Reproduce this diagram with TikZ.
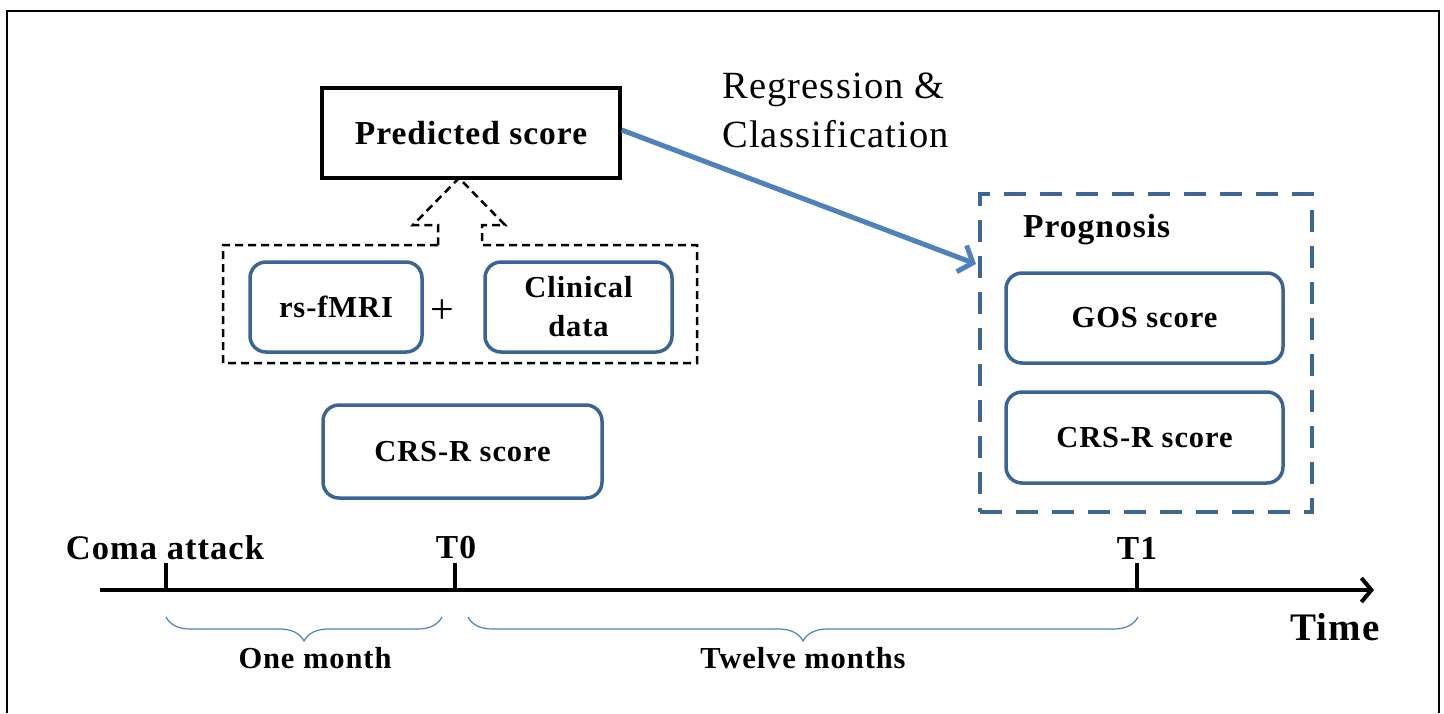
\documentclass[tikz,border=0pt]{standalone}
\usepackage{fontspec}
\setmainfont{Liberation Serif}[LetterSpace=3]
\usetikzlibrary{arrows.meta,decorations.pathreplacing}
\definecolor{boxblue}{HTML}{3B6496}
\definecolor{arrblue}{HTML}{4F81BD}
\definecolor{progblue}{HTML}{3E6695}
\tikzset{
  rbox/.style={draw=boxblue, line width=3.5pt, rounded corners=16pt, fill=white,
    inner sep=0pt, align=center, font=\fontsize{30.5}{39}\selectfont\bfseries},
  predbox/.style={draw=black, line width=3.5pt, fill=white, inner sep=0pt,
    font=\fontsize{33.5}{40}\selectfont\bfseries},
  blkdash/.style={draw=black, line width=2.5pt, dash pattern=on 8pt off 5pt},
  progdash/.style={draw=progblue, line width=4pt, dash pattern=on 22pt off 14pt},
  lbl/.style={inner sep=0pt, font=\fontsize{33.5}{40}\selectfont\bfseries},
  brc/.style={draw=arrblue, line width=1.2pt, decorate,
    decoration={brace, mirror, amplitude=24pt}},
  tick/.style={line width=4pt},
}
\begin{document}
\begin{tikzpicture}[x=1pt,y=-1pt]
\useasboundingbox (0,0) rectangle (1444,713);
\fill[white] (0,0) rectangle (1444,713);
% outer frame
\draw[line width=2pt] (7,713) -- (7,11) -- (1439,11) -- (1439,713);

% predicted score
\node[predbox, minimum width=298pt, minimum height=90pt] (pred) at (471,133) {Predicted score};

% regression text
\node[inner sep=0pt, align=left, anchor=west, font=\fontsize{38.5}{49}\selectfont] (reg) at (722,110)
  {Regression \&\\Classification};

% dashed group with block arrow
\draw[blkdash, line join=miter] (438,245) -- (223,245) -- (223,363) -- (697,363) -- (697,245)
  -- (482,245) -- (482,225) -- (505,225) -- (459,178) -- (413,225) -- (438,225) -- cycle;

\node[rbox, minimum width=172pt, minimum height=90pt] (fmri) at (336,307) {rs-fMRI};
\node[inner sep=0pt, font=\fontsize{42}{44}\selectfont] (plus) at (442,312) {+};
\node[rbox, minimum width=187pt, minimum height=90pt] (clin) at (578.5,307) {Clinical\\data};
\node[rbox, minimum width=279pt, minimum height=93pt] (crs0) at (462.5,451.5) {CRS-R score};

% prognosis box
\node[progdash, minimum width=332pt, minimum height=318pt, inner sep=0pt] (prog) at (1146,353) {};
\node[lbl, anchor=west] (progl) at (1023,230) {Prognosis};
\node[rbox, minimum width=277pt, minimum height=90pt] (gos) at (1144.5,318) {GOS score};
\node[rbox, minimum width=277pt, minimum height=91pt] (crs1) at (1144.5,437.5) {CRS-R score};

% blue arrow
\draw[draw=arrblue, line width=5pt, -{Straight Barb[length=12pt,width=28pt]}]
  ([yshift=3pt]pred.east) -- ([xshift=-2pt,yshift=-72pt]prog.north west);

% timeline
\coordinate (ts) at (100,590);
\coordinate (te) at (1374,590);
\draw[line width=4pt, -{Straight Barb[length=10pt,width=24pt]}] (ts) -- (te);
\coordinate (c0) at (166,590); \coordinate (c0t) at (166,563);
\coordinate (t0) at (455,590); \coordinate (t0t) at (455,563);
\coordinate (t1) at (1137,590); \coordinate (t1t) at (1137,563);
\draw[tick] (c0) -- (c0t);
\draw[tick] (t0) -- (t0t);
\draw[tick] (t1) -- (t1t);
\node[lbl, font=\fontsize{34.5}{40}\selectfont\bfseries] (coma) at (165,548) {Coma attack};
\node[lbl] (t0l) at (456,548) {T0};
\node[lbl] (t1l) at (1137,548) {T1};
\node[lbl, font=\fontsize{39}{44}\selectfont\bfseries] (time) at (1335,627) {Time};

% braces
\coordinate (b1a) at (166,617); \coordinate (b1b) at (442,617);
\coordinate (b2a) at (468,617); \coordinate (b2b) at (1138,617);
\draw[brc] (b1a) -- (b1b);
\draw[brc] (b2a) -- (b2b);
\node[lbl, font=\fontsize{30.5}{36}\selectfont\bfseries] (onem) at (315,658) {One month};
\node[lbl, font=\fontsize{30.5}{36}\selectfont\bfseries] (twm) at (803,658) {Twelve months};
\end{tikzpicture}
\end{document}
